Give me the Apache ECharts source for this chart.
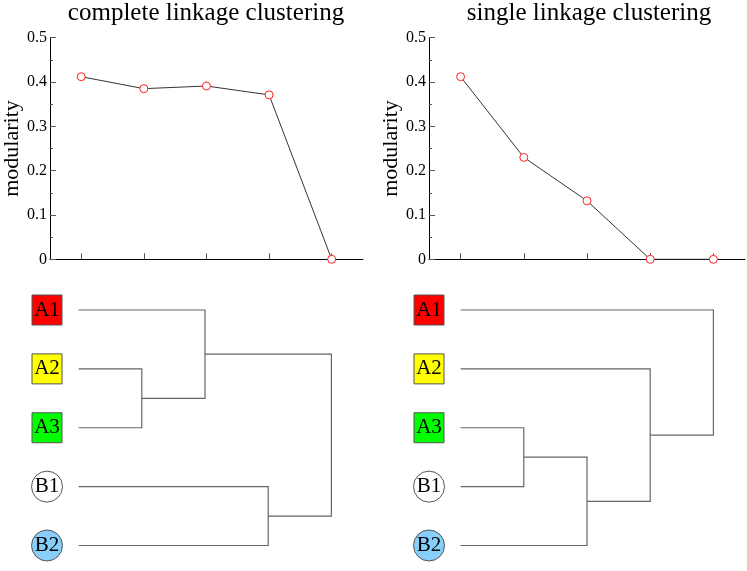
<!DOCTYPE html>
<html>
<head>
<meta charset="utf-8">
<script src="https://cdn.jsdelivr.net/npm/echarts@6/dist/echarts.min.js"></script>
<style>html,body{margin:0;padding:0;background:#fff}#c{width:747px;height:571px}</style>
</head>
<body>
<div id="c"></div>
<script>
// ---- data ----
const steps = ['1', '2', '3', '4', '5'];
const completeModularity = [0.412, 0.385, 0.391, 0.371, 0.0];
const singleModularity = [0.412, 0.230, 0.132, 0.0, 0.0];
const yTicks = [0, 0.1, 0.2, 0.3, 0.4, 0.5];
const leaves = ['A1', 'A2', 'A3', 'B1', 'B2'];
const leafColors = ['#ff0000', '#ffff00', '#00ff00', '#ffffff', '#87cefa'];
const leafShapes = ['rect', 'rect', 'rect', 'circle', 'circle'];
// merges: [childA, childB, height]; clusters >= 5 are earlier merges
const completeMerges = [[1, 2, 2], [0, 5, 3], [3, 4, 4], [6, 7, 5]];
const singleMerges = [[2, 3, 2], [5, 4, 3], [1, 6, 4], [0, 7, 5]];
const titles = ['complete linkage clustering', 'single linkage clustering'];

const serif = '"Liberation Serif", "DejaVu Serif", serif';

function dendroLinks(merges) {
  const pos = leaves.map((_, i) => i);
  const hgt = leaves.map(() => 1);
  const links = [];
  merges.forEach(([a, b, h]) => {
    links.push({ coords: [[hgt[a], pos[a]], [h, pos[a]], [h, pos[b]], [hgt[b], pos[b]]] });
    pos.push((pos[a] + pos[b]) / 2);
    hgt.push(h);
  });
  return links;
}

const grids = [
  { left: 47, top: 37.7, width: 316, height: 221.6 },
  { left: 429, top: 37.7, width: 316, height: 221.6 },
  { left: 47, top: 310, width: 316, height: 235.5 },
  { left: 429, top: 310, width: 316, height: 235.5 }
];

const xAxes = [], yAxes = [], series = [];
[0, 1].forEach(k => {
  xAxes.push({
    gridIndex: k, type: 'category', data: steps, boundaryGap: true,
    axisLine: { show: true, lineStyle: { color: '#000', width: 1 } },
    axisTick: { show: true, inside: true, alignWithLabel: true, length: 6, lineStyle: { color: '#555' } },
    axisLabel: { show: false }, splitLine: { show: false }
  });
  yAxes.push({
    gridIndex: k, type: 'value', min: 0, max: 0.5, interval: 0.1,
    name: 'modularity', nameLocation: 'middle', nameGap: 24,
    nameTextStyle: { fontFamily: serif, fontSize: 22, color: '#000' },
    axisLine: { show: true, lineStyle: { color: '#000', width: 1 } },
    axisTick: { show: true, inside: true, length: 6, lineStyle: { color: '#555' } },
    minorTick: { show: true, splitNumber: 2, length: 3, lineStyle: { color: '#555' } },
    axisLabel: { fontFamily: serif, fontSize: 16, color: '#000', margin: 3,
      formatter: v => String(yTicks.find(t => Math.abs(t - v) < 1e-9) ?? v) },
    splitLine: { show: false }
  });
  series.push({
    type: 'line', xAxisIndex: k, yAxisIndex: k,
    data: k === 0 ? completeModularity : singleModularity,
    symbol: 'circle', symbolSize: 8,
    itemStyle: { color: '#fff', borderColor: '#ff2020', borderWidth: 1 },
    lineStyle: { color: '#333', width: 1 },
    z: 3, animation: false
  });
});
[2, 3].forEach(k => {
  xAxes.push({ gridIndex: k, type: 'value', min: 0.5, max: 5.5, show: false });
  yAxes.push({ gridIndex: k, type: 'value', min: 0, max: 4, inverse: true, show: false });
  series.push({
    type: 'lines', coordinateSystem: 'cartesian2d', xAxisIndex: k, yAxisIndex: k,
    polyline: true, clip: false,
    data: dendroLinks(k === 2 ? completeMerges : singleMerges),
    lineStyle: { color: '#666', width: 1.2, opacity: 1 },
    animation: false
  });
  series.push({
    type: 'scatter', xAxisIndex: k, yAxisIndex: k, clip: false,
    data: leaves.map((name, i) => ({
      value: [0.5, i], name: name, symbol: leafShapes[i],
      symbolSize: leafShapes[i] === 'rect' ? 30 : 31,
      itemStyle: { color: leafColors[i], borderColor: '#555', borderWidth: 1, opacity: 1 }
    })),
    label: { show: true, position: 'inside', formatter: p => p.name,
      fontFamily: serif, fontSize: 21, color: '#000' },
    animation: false
  });
});

const chart = echarts.init(document.getElementById('c'), null, { renderer: 'canvas' });
chart.setOption({
  animation: false,
  backgroundColor: '#fff',
  title: titles.map((t, i) => ({
    text: t, left: i === 0 ? 206 : 589, top: 1, textAlign: 'center', padding: 0,
    textStyle: { fontFamily: serif, fontSize: 25, fontWeight: 'normal', color: '#000' }
  })),
  grid: grids,
  xAxis: xAxes,
  yAxis: yAxes,
  series: series
});
</script>
</body>
</html>
